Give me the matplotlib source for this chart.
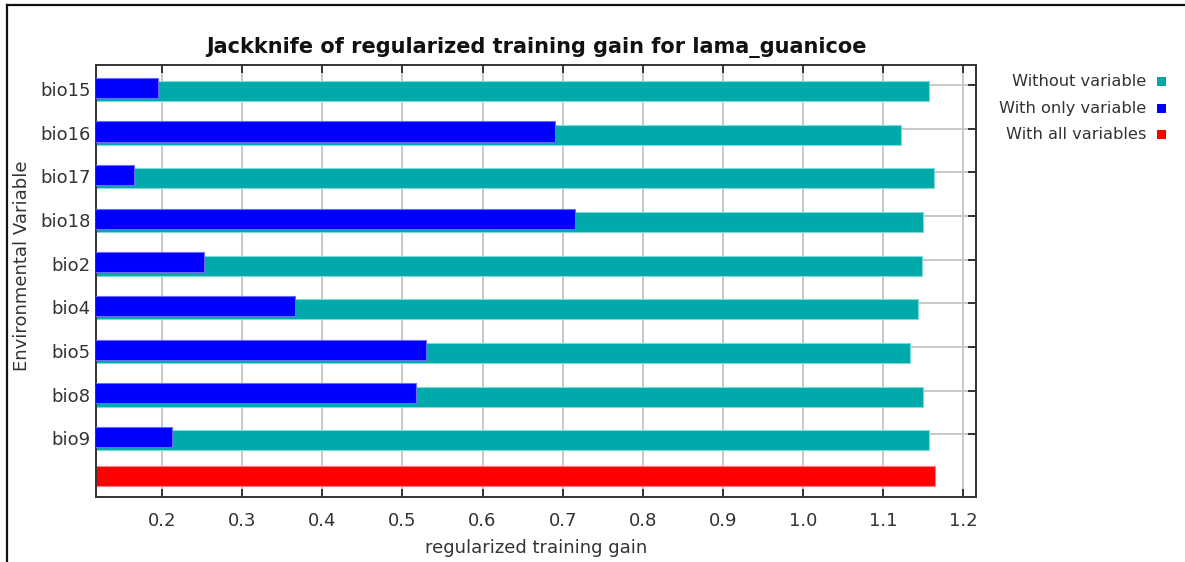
import matplotlib
matplotlib.use("Agg")
import matplotlib.pyplot as plt
from matplotlib.patches import Rectangle
from matplotlib.lines import Line2D
from matplotlib.transforms import ScaledTranslation
import numpy as np

plt.rcParams['font.family'] = ['DejaVu Sans']

# Jackknife results (regularized training gain)
variables = ["bio15", "bio16", "bio17", "bio18", "bio2", "bio4", "bio5", "bio8", "bio9"]
without_variable = [1.157, 1.123, 1.163, 1.150, 1.148, 1.144, 1.133, 1.150, 1.157]
with_only_variable = [0.195, 0.690, 0.165, 0.716, 0.2525, 0.366, 0.530, 0.5175, 0.212]
with_all_variables = 1.165

series_names = ["Without variable", "With only variable", "With all variables"]
series_colors = ["#00AAAA", "#0000FF", "#FF0000"]
edge_colors = ["#7FDADA", "#6A6AFF", "#FF8080"]
x_ticks = [0.2, 0.3, 0.4, 0.5, 0.6, 0.7, 0.8, 0.9, 1.0, 1.1, 1.2]

W, H = 1185, 562
fig = plt.figure(figsize=(W / 100, H / 100), dpi=100)
fig.patch.set_facecolor("white")

# outer frame (left and top edges)
fig.add_artist(Line2D([7 / W, 7 / W], [0, 1 - 5 / H], color="#111111", lw=1.6))
fig.add_artist(Line2D([7 / W, 1], [1 - 5 / H, 1 - 5 / H], color="#111111", lw=1.6))

ax = fig.add_axes([96 / W, 1 - 497 / H, (976 - 96) / W, (497 - 65) / H])
ax.set_axisbelow(True)

n = len(variables)
rows = np.arange(n)
bar_h = 0.46

ax.barh(rows + 0.14, without_variable, height=bar_h, left=0,
        color=series_colors[0], edgecolor=edge_colors[0], linewidth=0.8, zorder=2)
ax.barh(rows + 0.065, with_only_variable, height=bar_h, left=0,
        color=series_colors[1], edgecolor=edge_colors[1], linewidth=0.8, zorder=3)
ax.barh([n - 0.05], [with_all_variables], height=bar_h, left=0,
        color=series_colors[2], edgecolor=edge_colors[2], linewidth=0.8, zorder=2)

ax.set_xlim(0.1175, 1.216)
ax.set_ylim(n + 0.438, -0.458)

ax.set_xticks(x_ticks)
ax.set_xticklabels([f"{v:.1f}" for v in x_ticks])
ax.set_yticks(rows)
ax.set_yticklabels(variables)

ax.grid(True, axis="both", color="#C8C8C8", linewidth=1.4)

ax.tick_params(axis="x", which="both", direction="in", length=6, width=1.4,
               color="#333333", top=True, bottom=True, labeltop=False,
               pad=11, labelsize=13, labelcolor="#333333")
ax.tick_params(axis="y", which="both", direction="in", length=6, width=1.4,
               color="#333333", left=False, right=True, pad=4,
               labelsize=13, labelcolor="#333333")
for s in ax.spines.values():
    s.set_color("#333333")
    s.set_linewidth(1.4)

# category names sit level with the bars, slightly below the tick positions
shift = ScaledTranslation(0, -4 / 100, fig.dpi_scale_trans)
for lbl in ax.get_yticklabels():
    lbl.set_transform(lbl.get_transform() + shift)

fig.text(536 / W, 1 - 48 / H, "Jackknife of regularized training gain for lama_guanicoe",
         ha="center", va="center", fontsize=15, fontweight="bold", color="#111111")
fig.text(536 / W, 1 - 548 / H, "regularized training gain",
         ha="center", va="center", fontsize=13, color="#333333")
fig.text(22 / W, 1 - 266 / H, "Environmental Variable", rotation=90,
         ha="center", va="center", fontsize=13, color="#333333")

# legend: labels right-aligned with a small colour square on the right
for i, (name, col) in enumerate(zip(series_names, series_colors)):
    yc = 1 - (81.5 + i * 26.7) / H
    fig.text(1146 / W, yc, name, ha="right", va="center", fontsize=11.7, color="#333333")
    fig.add_artist(Rectangle((1157 / W, yc - 4.5 / H), 9 / W, 9 / H,
                             transform=fig.transFigure, facecolor=col, edgecolor="none"))

fig.savefig("out.png", dpi=100)
